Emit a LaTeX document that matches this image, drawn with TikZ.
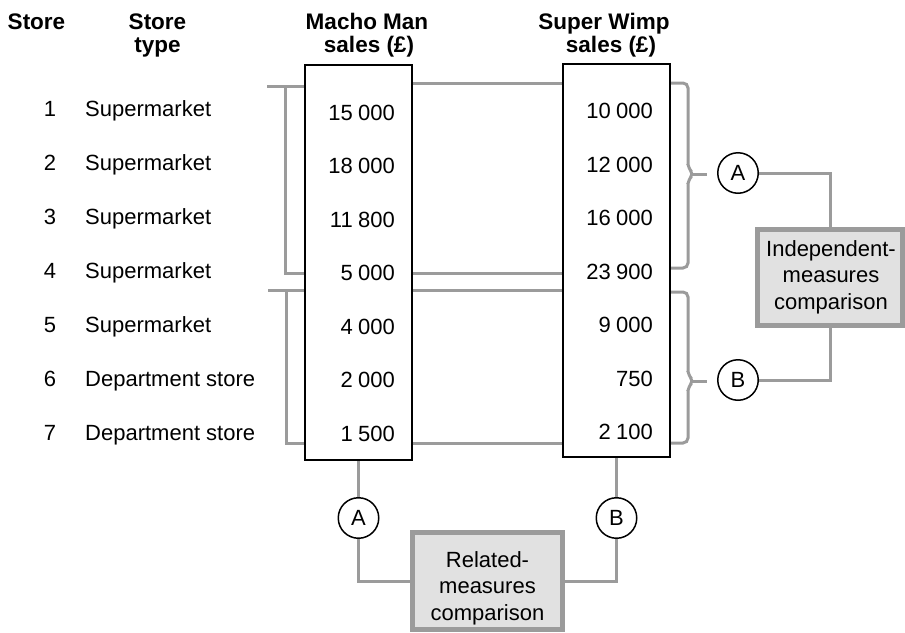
\documentclass[tikz,border=0pt]{standalone}
\usepackage{fontspec}
\setmainfont{Liberation Sans}
\usetikzlibrary{backgrounds}
\definecolor{gline}{RGB}{155,155,155}
\definecolor{gfill}{RGB}{225,225,225}
\newcommand\numgap{\kern0.24em}
\begin{document}
\begin{tikzpicture}[x=1pt,y=-1pt,
  every node/.style={font=\fontsize{22}{26.5}\selectfont, inner sep=0pt},
  hdr/.style={anchor=base, font=\fontsize{22.5}{26}\selectfont\bfseries},
  num/.style={anchor=base east},
  lft/.style={anchor=base west},
  gl/.style={draw=gline, line width=3pt},
  databox/.style={draw=black, line width=2pt, fill=white, rectangle},
  circ/.style={draw=black, line width=1.5pt, circle, minimum size=40.5pt, fill=white},
  cmpbox/.style={draw=gline, line width=5pt, fill=gfill, rectangle}]
\useasboundingbox (0,0) rectangle (905,632);

% headers
\node[hdr] (h1) at (36.5,29) {Store};
\node[hdr] (h2a) at (157.5,29) {Store};
\node[hdr] (h2b) at (157.5,52) {type};
\node[hdr] (h3a) at (367,29) {Macho Man};
\node[hdr] (h3b) at (369,52) {sales (£)};
\node[hdr] (h4a) at (604,29) {Super Wimp};
\node[hdr] (h4b) at (611,52) {sales (£)};

% data boxes
\node[databox, minimum width=107pt, minimum height=395pt] (mm) at (358.5,262.5) {};
\node[databox, minimum width=107pt, minimum height=393pt] (sw) at (616.5,260.5) {};

% rows
\foreach \n/\t [count=\k from 0] in {1/Supermarket,2/Supermarket,3/Supermarket,4/Supermarket,5/Supermarket,6/Department store,7/Department store}{
  \node[anchor=base] (sn\n) at (50,116+54*\k) {\n};
  \node[lft] (st\n) at (85,116+54*\k) {\t};
}
\foreach \v [count=\k from 0] in {15\numgap 000,18\numgap 000,11\numgap 800,5\numgap 000,4\numgap 000,2\numgap 000,1\numgap 500}{
  \node[num] (mv\k) at (395,120+53.5*\k) {\v};
}
\foreach \v [count=\k from 0] in {10\numgap 000,12\numgap 000,16\numgap 000,23\numgap 900,9\numgap 000,750,2\numgap 100}{
  \node[num] (sv\k) at (653,118.5+53.5*\k) {\v};
}

% circles
\node[circ] (ca) at (738,173) {A};
\node[circ] (cb) at (738,380) {B};
\node[circ] (ba) at (358.5,518) {A};
\node[circ] (bb) at (616.5,518) {B};

% comparison boxes
\node[cmpbox, minimum width=145pt, minimum height=96pt] (ind) at (830,277.5) {};
\node[align=center] (indt) at (831,277) {Independent-\\measures\\comparison};
\node[cmpbox, minimum width=150pt, minimum height=97pt] (rel) at (487.5,581) {};
\node[align=center] (relt) at (487.5,588) {Related-\\measures\\comparison};

\begin{pgfonlayer}{background}
  % left brackets
  \draw[gl] (267,86) -- (mm.west |- 0,86);
  \draw[gl] (285,86) -- (285,273) -- (mm.west |- 0,273);
  \draw[gl] (mm.east |- 0,83) -- (sw.west |- 0,83);
  \draw[gl] (mm.east |- 0,273) -- (sw.west |- 0,273);
  \draw[gl] (268,290) -- (sw.west |- 0,290);
  \draw[gl] (286,290) -- (286,443) -- (sw.west |- 0,443);
  % right braces
  \draw[gl, rounded corners=5pt] (sw.east |- 0,83) -- (688,83) -- (688,168) -- (694,174) -- (688,180) -- (688,268) -- (sw.east |- 0,268);
  \draw[gl] (692,174) -- (707,174);
  \draw[gl, rounded corners=5pt] (sw.east |- 0,292) -- (688,292) -- (688,375) -- (694,381) -- (688,387) -- (688,443) -- (sw.east |- 0,443);
  \draw[gl] (692,381) -- (707,381);
  % connectors to independent box
  \draw[gl] (ca.east) -| (ind.north);
  \draw[gl] (ind.south) |- (cb.east);
  % connectors to related box
  \draw[gl] (mm.south) -- (ba.north);
  \draw[gl] (ba.south) |- (rel.west);
  \draw[gl] (sw.south) -- (bb.north);
  \draw[gl] (bb.south) |- (rel.east);
\end{pgfonlayer}
\end{tikzpicture}
\end{document}
